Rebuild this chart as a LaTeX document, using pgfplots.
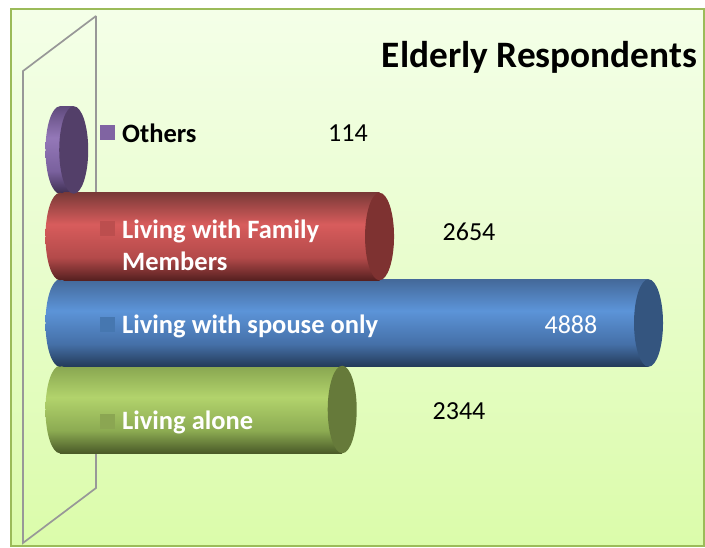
\documentclass[border=0pt]{standalone}
\usepackage{fontspec}
\setmainfont{Carlito}
\usepackage{pgfplots}
\pgfplotsset{compat=1.18}
\definecolor{frameC}{HTML}{9BBB59}\definecolor{wallC}{HTML}{989898}
\definecolor{keyP}{HTML}{8064A2}\definecolor{keyR}{HTML}{BC4E4E}\definecolor{keyB}{HTML}{4677B0}\definecolor{keyG}{HTML}{8BA652}
\definecolor{bgB}{HTML}{DBFCAA}\definecolor{bgM}{HTML}{E8FDCC}\definecolor{bgT}{HTML}{F4FFE8}
\definecolor{bT}{HTML}{44699A}\definecolor{bQ}{HTML}{4570A8}\definecolor{bM}{HTML}{5C94D8}\definecolor{bB}{HTML}{233A58}\definecolor{bC}{HTML}{34557F}
\definecolor{rT}{HTML}{7A3A38}\definecolor{rQ}{HTML}{B34A4A}\definecolor{rM}{HTML}{D85C5C}\definecolor{rB}{HTML}{562020}\definecolor{rC}{HTML}{7E3231}
\definecolor{gT}{HTML}{88A650}\definecolor{gQ}{HTML}{8CAB52}\definecolor{gM}{HTML}{B2D36C}\definecolor{gB}{HTML}{4A5A28}\definecolor{gC}{HTML}{667A3A}
\definecolor{pT}{HTML}{5F4A7C}\definecolor{pQ}{HTML}{7A619E}\definecolor{pM}{HTML}{9478B8}\definecolor{pB}{HTML}{3D2D50}\definecolor{pC}{HTML}{533F69}
\pgfdeclareverticalshading{bgV}{100bp}{color(0bp)=(bgB); color(25bp)=(bgB); color(50bp)=(bgM); color(75bp)=(bgT); color(100bp)=(bgT)}
\pgfdeclareverticalshading{blueV}{100bp}{color(0bp)=(bB); color(25bp)=(bB); color(38bp)=(bQ); color(57bp)=(bM); color(75bp)=(bT); color(100bp)=(bT)}
\pgfdeclareverticalshading{redV}{100bp}{color(0bp)=(rB); color(25bp)=(rB); color(38bp)=(rQ); color(57bp)=(rM); color(75bp)=(rT); color(100bp)=(rT)}
\pgfdeclareverticalshading{greenV}{100bp}{color(0bp)=(gB); color(25bp)=(gB); color(38bp)=(gQ); color(57bp)=(gM); color(75bp)=(gT); color(100bp)=(gT)}
\pgfdeclareverticalshading{purpleV}{100bp}{color(0bp)=(pB); color(25bp)=(pB); color(38bp)=(pQ); color(57bp)=(pM); color(75bp)=(pT); color(100bp)=(pT)}
\pgfdeclareplotmark{capBL}{\path[draw=none,shading=blueV] (0pt,0pt) ellipse [x radius=14.5pt,y radius=43.75pt];}
\pgfdeclareplotmark{capRL}{\path[draw=none,shading=redV] (0pt,0pt) ellipse [x radius=14.5pt,y radius=43.75pt];}
\pgfdeclareplotmark{capGL}{\path[draw=none,shading=greenV] (0pt,0pt) ellipse [x radius=14.5pt,y radius=43.75pt];}
\pgfdeclareplotmark{capPL}{\path[draw=none,shading=purpleV] (0pt,0pt) ellipse [x radius=14.5pt,y radius=43.75pt];}
\pgfdeclareplotmark{capBR}{\path[draw=none,fill=bC] (0pt,0pt) ellipse [x radius=14.5pt,y radius=43.75pt];}
\pgfdeclareplotmark{capRR}{\path[draw=none,fill=rC] (0pt,0pt) ellipse [x radius=14.5pt,y radius=43.75pt];}
\pgfdeclareplotmark{capGR}{\path[draw=none,fill=gC] (0pt,0pt) ellipse [x radius=14.5pt,y radius=43.75pt];}
\pgfdeclareplotmark{capPR}{\path[draw=none,fill=pC] (0pt,0pt) ellipse [x radius=14.5pt,y radius=43.75pt];}
\tikzset{
  lab/.style={anchor=west,inner sep=0pt,align=left,text=white,font=\fontsize{26.5}{32}\selectfont\bfseries},
  val/.style={inner sep=0pt,font=\fontsize{26}{30}\selectfont},
  keybox/.style={inner sep=0pt,minimum size=15pt},
}
\begin{document}
\begin{tikzpicture}[x=1pt,y=1pt]
\path[use as bounding box] (0,0) rectangle (705,547);
\begin{axis}[
  at={(10.5pt,1pt)}, anchor=south west,
  scale only axis, width=693.5pt, height=537pt,
  xmin=-411.1, xmax=5348.8, ymin=-1.578, ymax=4.630,
  xtick=\empty, ytick=\empty,
  axis line style={draw=frameC,line width=2pt},
  axis background/.style={shading=bgV},
  clip=false,
  barB/.style={xbar,bar width=87.5pt,bar shift=0pt,draw=none},
  capm/.style={only marks,mark=#1,mark options={draw=none}},
]
% back wall
\addplot[color=wallC,line width=1.7pt,mark=none] coordinates {(299,4.549) (-307,3.913) (-307,-1.543) (299,-0.908) (299,4.549)};
% Living alone
\addplot[capm=capGL] coordinates {(0,0)};
\addplot[barB,shading=greenV] coordinates {(2344,0)};
\addplot[capm=capGR] coordinates {(2344,0)};
% Living with spouse only
\addplot[capm=capBL] coordinates {(0,1)};
\addplot[barB,shading=blueV] coordinates {(4888,1)};
\addplot[capm=capBR] coordinates {(4888,1)};
% Others
\addplot[capm=capPL] coordinates {(0,3)};
\addplot[barB,shading=purpleV] coordinates {(114,3)};
\addplot[capm=capPR] coordinates {(114,3)};
% Living with family members
\addplot[capm=capRL] coordinates {(0,2)};
\addplot[barB,shading=redV] coordinates {(2654,2)};
\addplot[capm=capRR] coordinates {(2654,2)};
% keys
\node[keybox,fill=keyP] at (axis cs:394.5,3.197) {};
\node[keybox,fill=keyR] at (axis cs:394.5,2.087) {};
\node[keybox,fill=keyB] at (axis cs:394.5,0.977) {};
\node[keybox,fill=keyG] at (axis cs:394.5,-0.133) {};
% labels
\node[lab,text=black] at (axis cs:515,3.197) {Others};
\node[lab] at (axis cs:515,1.902) {Living with Family\\Members};
\node[lab] at (axis cs:515,0.955) {Living with spouse only};
\node[lab] at (axis cs:515,-0.155) {Living alone};
% values
\node[val] at (axis cs:2392,3.197) {114};
\node[val] at (axis cs:3397,2.052) {2654};
\node[val,text=white] at (axis cs:4244,0.977) {4888};
\node[val] at (axis cs:3314,-0.017) {2344};
% title
\node[inner sep=0pt,font=\fontsize{37.3}{40}\selectfont\bfseries] at (axis cs:3982,4.07) {Elderly Respondents};
\end{axis}
\end{tikzpicture}
\end{document}
